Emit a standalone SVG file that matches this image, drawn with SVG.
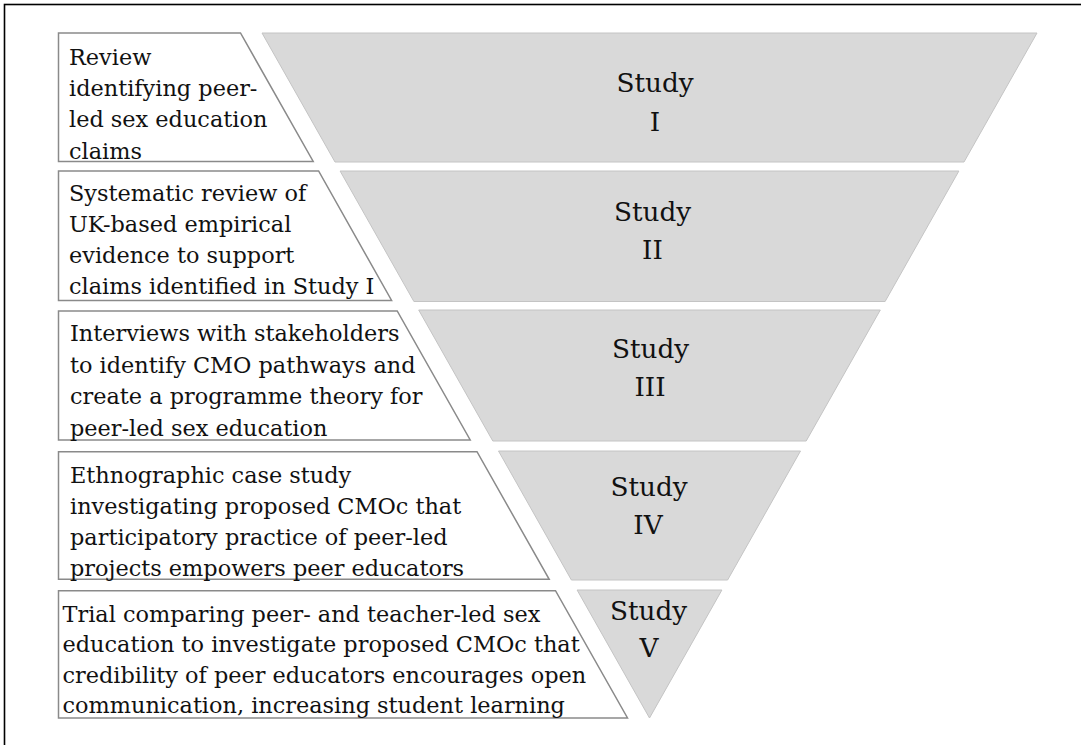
<svg xmlns="http://www.w3.org/2000/svg" width="1081" height="745" viewBox="0 0 1081 745">
<style>
.band{fill:#d9d9d9;stroke:#c4c4c4;stroke-width:1}
.box{fill:#ffffff;stroke:#8a8a8a;stroke-width:1.5}
.desc{font-family:"DejaVu Serif","Liberation Serif",serif;font-size:22.4px;fill:#111}
.lab{font-family:"DejaVu Serif","Liberation Serif",serif;font-size:26.3px;fill:#111;text-anchor:middle}
</style>
<rect x="0" y="0" width="1081" height="745" fill="#ffffff"/>
<rect x="4.5" y="4.5" width="1100" height="800" fill="none" stroke="#000" stroke-width="1.6"/>
<g id="study1">
<polygon class="band" points="262,33 1037,33 964,162 335,162"/>
<text class="lab" x="655" y="92">Study</text>
<text class="lab" x="655" y="131">I</text>
<polygon class="box" points="58.5,33 240.5,33 313.2,161.5 58.5,161.5"/>
<text class="desc" x="69" y="65">Review</text>
<text class="desc" x="69" y="96.2">identifying peer-</text>
<text class="desc" x="69" y="127.4">led sex education</text>
<text class="desc" x="69" y="158.6">claims</text>
</g>
<g id="study2">
<polygon class="band" points="340.1,171 958.9,171 885.1,301.5 413.9,301.5"/>
<text class="lab" x="652.5" y="221">Study</text>
<text class="lab" x="652.5" y="259">II</text>
<polygon class="box" points="58.5,171 318.6,171 391.6,300.5 58.5,300.5"/>
<text class="desc" x="69" y="201">Systematic review of</text>
<text class="desc" x="69" y="232">UK-based empirical</text>
<text class="desc" x="69" y="263">evidence to support</text>
<text class="desc" x="69" y="294">claims identified in Study I</text>
</g>
<g id="study3">
<polygon class="band" points="418.7,310 880.3,310 806.2,441 492.8,441"/>
<text class="lab" x="650.5" y="358">Study</text>
<text class="lab" x="650" y="396">III</text>
<polygon class="box" points="58.5,311 397.2,311 470.2,440 58.5,440"/>
<text class="desc" x="70" y="341">Interviews with stakeholders</text>
<text class="desc" x="70" y="372.5">to identify CMO pathways and</text>
<text class="desc" x="70" y="404">create a programme theory for</text>
<text class="desc" x="70" y="435.5">peer-led sex education</text>
</g>
<g id="study4">
<polygon class="band" points="498.5,451 800.5,451 727.6,580 571.4,580"/>
<text class="lab" x="649" y="496">Study</text>
<text class="lab" x="648" y="534">IV</text>
<polygon class="box" points="58.5,451.7 477,451.7 549.2,579.3 58.5,579.3"/>
<text class="desc" x="70" y="483">Ethnographic case study</text>
<text class="desc" x="70" y="514">investigating proposed CMOc that</text>
<text class="desc" x="70" y="545">participatory practice of peer-led</text>
<text class="desc" x="70" y="576">projects empowers peer educators</text>
</g>
<g id="study5">
<polygon class="band" points="577.1,590 721.9,590 649.5,718"/>
<text class="lab" x="648.5" y="620">Study</text>
<text class="lab" x="649" y="657">V</text>
<polygon class="box" points="58.5,590.7 555.5,590.7 627.5,718 58.5,718"/>
<text class="desc" x="62.5" y="621.5">Trial comparing peer- and teacher-led sex</text>
<text class="desc" x="62.5" y="652">education to investigate proposed CMOc that</text>
<text class="desc" x="62.5" y="682.5">credibility of peer educators encourages open</text>
<text class="desc" x="62.5" y="713">communication, increasing student learning</text>
</g>
<g id="connectors"/>
</svg>
